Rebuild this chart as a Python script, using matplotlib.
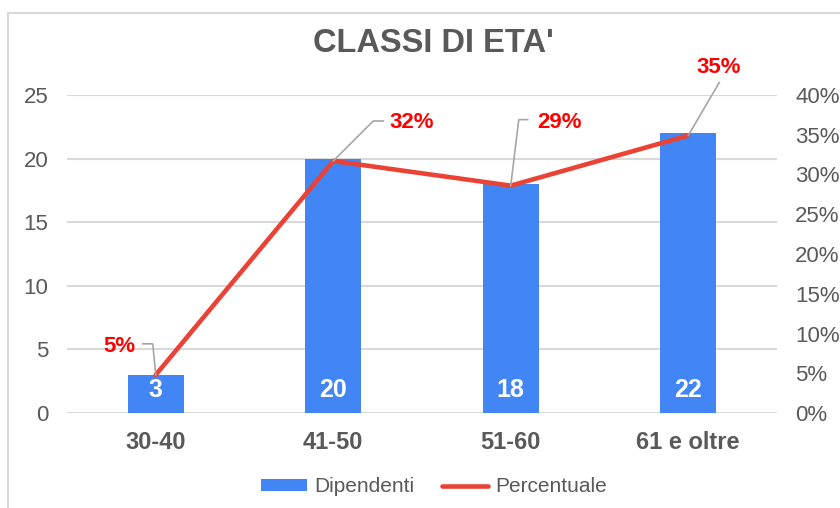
import matplotlib
matplotlib.use("Agg")
import matplotlib.pyplot as plt
from matplotlib.transforms import ScaledTranslation
from matplotlib.patches import Rectangle, Patch
from matplotlib.lines import Line2D

categories = ["30-40", "41-50", "51-60", "61 e oltre"]
dipendenti = [3, 20, 18, 22]
percentuale = [4.8, 31.7, 28.6, 34.9]
pct_labels = ["5%", "32%", "29%", "35%"]
left_ticks = [0, 5, 10, 15, 20, 25]
right_ticks = [0, 5, 10, 15, 20, 25, 30, 35, 40]

BLUE = "#4285F4"
RED = "#EA4335"
GRAY = "#595959"
GRID = "#D9D9D9"
plt.rcParams['font.family'] = ['Liberation Sans', 'DejaVu Sans']

W, H = 840, 508
fig = plt.figure(figsize=(W/100, H/100), dpi=100)
fig.patches.append(Rectangle((8/W, -0.2), 2, (H-13)/H + 0.2, transform=fig.transFigure,
                             fill=False, edgecolor=GRID, lw=1.5))

ax = fig.add_axes([67/W, (H-413)/H, (777-67)/W, (413-95)/H])
ax2 = ax.twinx()
x = list(range(len(categories)))
ax.bar(x, dipendenti, width=0.315, color=BLUE, zorder=2)
ax.set_xlim(-0.5, len(categories) - 0.5)
ax.set_ylim(0, 25)
ax.set_yticks(left_ticks)
ax.set_xticks(x)
ax.set_xticklabels(categories, fontsize=17, fontweight='bold', color=GRAY)
ax.tick_params(axis='x', length=0, pad=13)
ax.tick_params(axis='y', length=0, labelsize=16, labelcolor=GRAY, pad=13.5)
ax.grid(axis='y', color=GRID, lw=1.5, zorder=0)
ax.set_axisbelow(True)
for s in ax.spines.values():
    s.set_visible(False)
for s in ax2.spines.values():
    s.set_visible(False)

ax2.plot(x, percentuale, color=RED, lw=3.3, solid_capstyle='round', zorder=3)
ax2.set_ylim(0, 40)
ax2.set_yticks(right_ticks)
ax2.set_yticklabels([f"{t}%" for t in right_ticks])
ax2.tick_params(axis='y', length=0, labelsize=16, labelcolor=GRAY, pad=13)

# bar value labels
for xi, v in zip(x, dipendenti):
    ax.annotate(str(v), (xi, 0), xytext=(0, 23*0.72), textcoords='offset points',
                ha='center', va='center', color='white', fontsize=18, fontweight='bold', zorder=4)

# leader lines & percent labels (pixel offsets from the data point)
leaders = [[(0, 0), (-3, -31), (-13, -31)],
           [(0, 0), (40, -40), (50, -40)],
           [(0, 0), (8, -66), (17, -66)],
           [(0, 0), (31, -53)]]
label_pos = [(-20, -28, 'right'), (56, -38, 'left'), (26, -63, 'left'), (30, -68, 'center')]
inv = fig.transFigure.inverted()
for xi, v, lab, path, (dx, dy, ha) in zip(x, percentuale, pct_labels, leaders, label_pos):
    base = ax2.transData.transform((xi, v))
    pts = [(base[0] + px, base[1] - py) for px, py in path]
    fpts = [inv.transform(p) for p in pts]
    fig.add_artist(Line2D([p[0] for p in fpts], [p[1] for p in fpts], color="#A6A6A6",
                          lw=1.2, transform=fig.transFigure))
    tr = ax2.transData + ScaledTranslation(dx/100, -dy/100, fig.dpi_scale_trans)
    ax2.text(xi, v, lab, transform=tr, ha=ha, va='center', color='#FF0000',
             fontsize=16, fontweight='bold', zorder=5)

fig.text(433/W, 1 - 43/H, "CLASSI DI ETA'", ha='center', va='center', fontsize=23.5,
         fontweight='bold', color=GRAY)

handles = [Patch(facecolor=BLUE, edgecolor='none'), Line2D([0], [0], color=RED, lw=3.3, solid_capstyle='round')]
fig.legend(handles, ["Dipendenti", "Percentuale"], loc='center', bbox_to_anchor=(434/W, 1 - 487/H),
           ncol=2, frameon=False, fontsize=15, labelcolor=GRAY, handlelength=2.2,
           handletextpad=0.35, columnspacing=1.3, handleheight=0.5)

fig.savefig("out.png", dpi=100)
